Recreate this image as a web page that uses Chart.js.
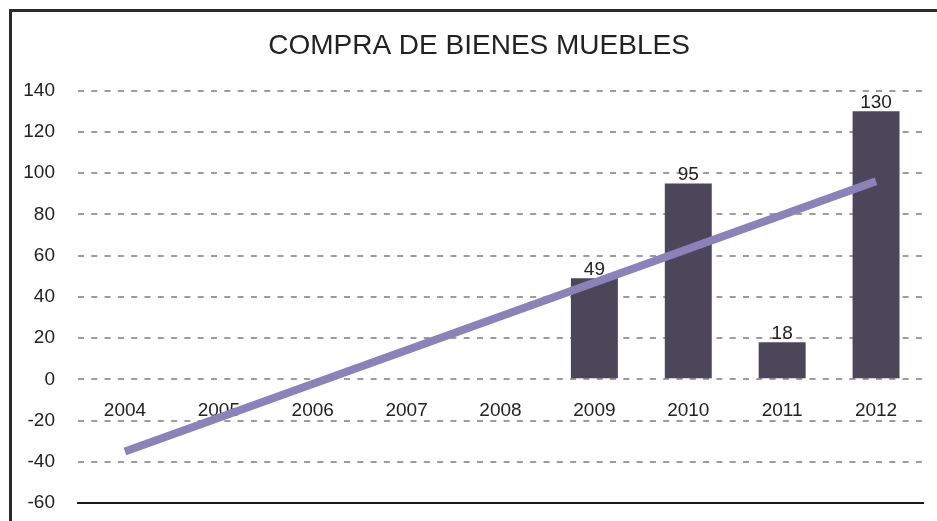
<!DOCTYPE html>
<html lang="es">
  <head>
    <meta charset="UTF-8" />
    <title>Compra de bienes muebles</title>
    <style>
      body {
        margin: 0;
        background: #fff;
        font-family: "Liberation Sans", Arial, sans-serif;
      }

      #frame {
        position: absolute;
        left: 9px;
        top: 9px;
        width: 1000px;
        height: 600px;
        border-left: 3px solid #2b2b2b;
        border-top: 3px solid #2b2b2b;
      }
    </style>
  </head>
  <body>
    <div id="frame">
      <canvas id="chart" width="925" height="509"></canvas>
    </div>

    <script src="https://cdn.jsdelivr.net/npm/chart.js"></script>
    <script>
      const years = ["2004", "2005", "2006", "2007", "2008", "2009", "2010", "2011", "2012"];
      const purchases = [null, null, null, null, null, 49, 95, 18, 130];
      // linear trend, only its two ends are drawn and joined
      const trend = [-35, null, null, null, null, null, null, null, 96];
      const yTicks = { min: -60, max: 140, step: 20 };

      const textColor = "#222";
      const fontFamily = "'Liberation Sans', Arial, sans-serif";

      // writes the value above each bar
      const barValues = {
        id: "barValues",
        afterDatasetsDraw(chart) {
          const ctx = chart.ctx;
          const meta = chart.getDatasetMeta(0);
          ctx.save();
          ctx.font = "19px " + fontFamily;
          ctx.fillStyle = textColor;
          ctx.textAlign = "center";
          ctx.textBaseline = "alphabetic";
          meta.data.forEach((bar, i) => {
            const v = purchases[i];
            if (v === null) return;
            ctx.fillText(String(v), bar.x, bar.y - 3);
          });
          ctx.restore();
        },
      };

      const ctx = document.getElementById("chart").getContext("2d");
      new Chart(ctx, {
        type: "bar",
        data: {
          labels: years,
          datasets: [
            {
              label: "Compra",
              data: purchases,
              backgroundColor: "#4b4659",
              barPercentage: 0.5,
              categoryPercentage: 1,
              order: 1,
            },
            {
              type: "line",
              label: "Tendencia",
              data: trend,
              spanGaps: true,
              borderColor: "#8a82b9",
              borderWidth: 8,
              borderCapStyle: "butt",
              pointRadius: 0,
              tension: 0,
              order: 0,
            },
          ],
        },
        options: {
          responsive: false,
          animation: false,
          events: [],
          layout: { padding: { left: 9, right: 0, top: 0, bottom: 10 } },
          plugins: {
            legend: { display: false },
            tooltip: { enabled: false },
            title: {
              display: true,
              text: "COMPRA DE BIENES MUEBLES",
              color: textColor,
              font: { family: fontFamily, size: 28, weight: "normal" },
              padding: { top: 17, bottom: 28 },
            },
          },
          scales: {
            x: {
              position: { y: 0 },
              grid: { display: false },
              border: { display: false },
              ticks: {
                color: textColor,
                font: { family: fontFamily, size: 19 },
                padding: 12,
                maxRotation: 0,
              },
            },
            xBase: {
              type: "category",
              labels: years,
              position: "bottom",
              offset: true,
              grid: { display: false },
              ticks: { display: false },
              border: { display: true, color: "#1a1a1a", width: 2 },
            },
            y: {
              min: yTicks.min,
              max: yTicks.max,
              afterFit(scale) {
                scale.width = 57;
                // the labels sit inside the frame, no extra room above/below
                scale.paddingTop = 0;
                scale.paddingBottom = 0;
              },
              ticks: {
                stepSize: yTicks.step,
                color: textColor,
                font: { family: fontFamily, size: 19 },
                padding: 23,
              },
              grid: {
                drawTicks: false,
                lineWidth: 2,
                color: (c) => (c.tick && c.tick.value === yTicks.min ? "rgba(0,0,0,0)" : "#9c9c9c"),
              },
              border: { display: false, dash: [6, 7.3] },
            },
            // empty strip on the right of the plot
            yRight: {
              type: "linear",
              position: "right",
              grid: { display: false },
              border: { display: false },
              ticks: { display: false },
              afterFit(scale) {
                scale.width = 14;
              },
            },
          },
        },
        plugins: [barValues],
      });
    </script>
  </body>
</html>
